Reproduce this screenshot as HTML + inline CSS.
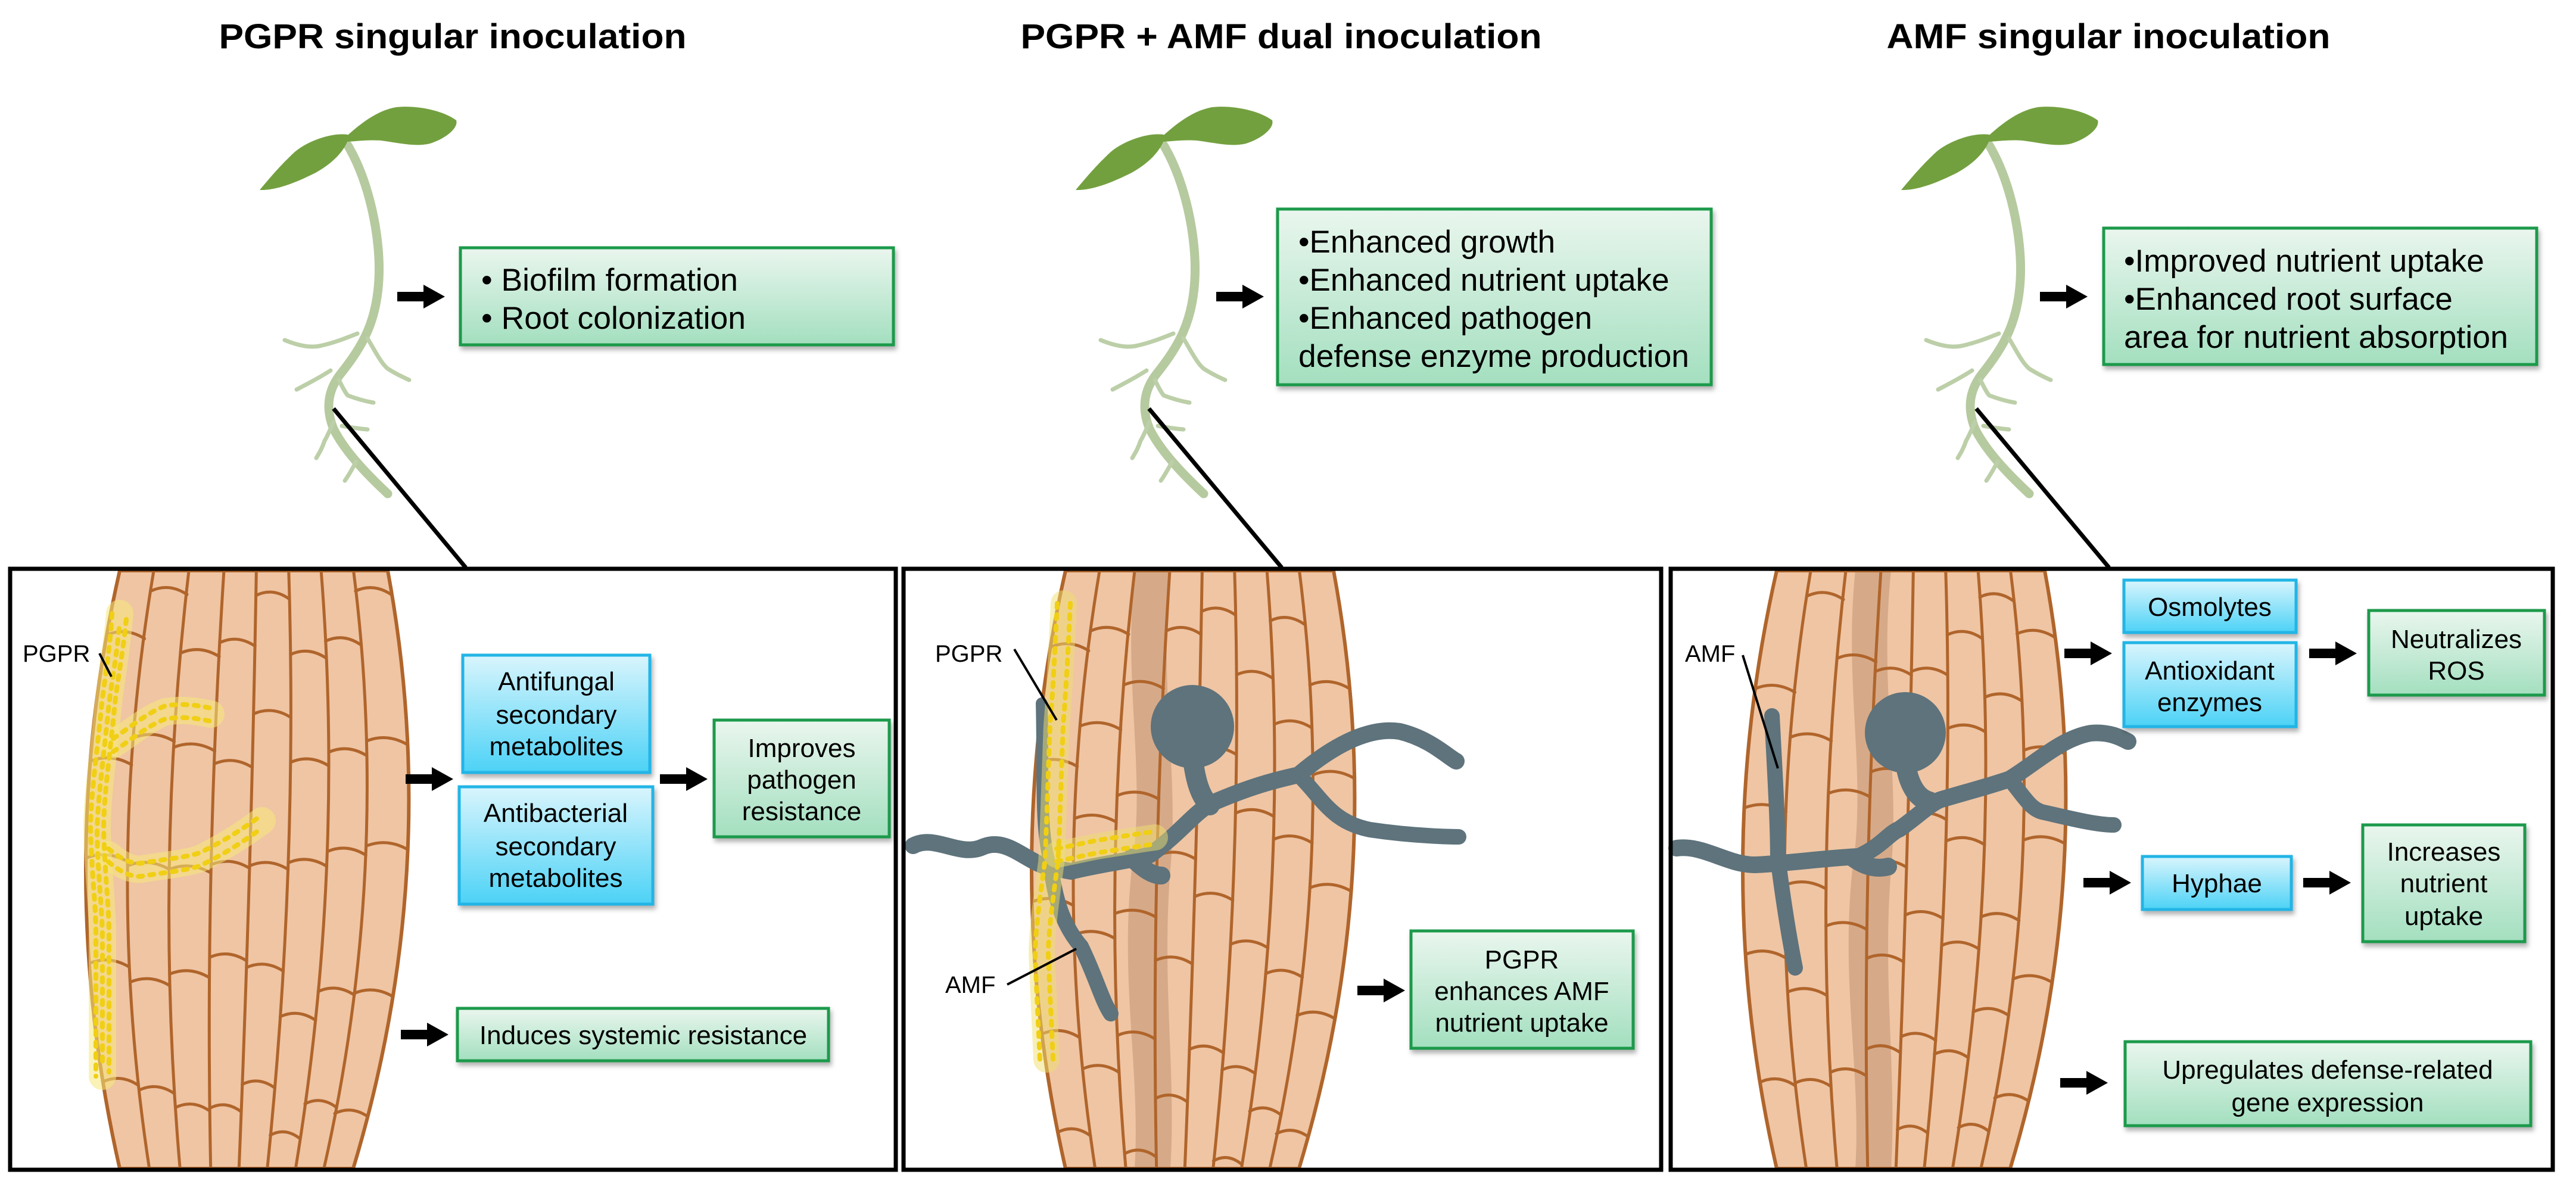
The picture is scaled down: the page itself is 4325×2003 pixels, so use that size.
<!DOCTYPE html>
<html><head><meta charset="utf-8">
<style>
html,body{margin:0;padding:0;background:#fff;}
svg{display:block;}
text{font-family:"Liberation Sans",Arial,sans-serif;fill:#000;}
.t{font-size:44px;text-anchor:middle;}
.tb{font-size:53px;}
.ttl{font-size:58px;font-weight:bold;text-anchor:middle;}
.lbl{font-size:40px;}
.gb{fill:url(#gg);stroke:#1f9a4c;stroke-width:5;filter:url(#sh);}
.bb{fill:url(#bg);stroke:#22b5e6;stroke-width:5;filter:url(#sh);}
.hy{fill:none;stroke:#5e737c;stroke-linecap:round;stroke-linejoin:round;}
</style></head>
<body>
<svg id="s" width="4325" height="2003" viewBox="0 0 4325 2003" xmlns="http://www.w3.org/2000/svg">
<defs>
<linearGradient id="gg" x1="0" y1="0" x2="0" y2="1"><stop offset="0" stop-color="#eaf6ee"/><stop offset="1" stop-color="#a3dfbf"/></linearGradient>
<linearGradient id="bg" x1="0" y1="0" x2="0" y2="1"><stop offset="0" stop-color="#d9f5fd"/><stop offset="1" stop-color="#4cd2f6"/></linearGradient>
<filter id="sh" x="-10%" y="-10%" width="130%" height="140%"><feDropShadow dx="3" dy="6" stdDeviation="4" flood-color="#000" flood-opacity="0.3"/></filter>
<path id="arr" d="M0,-8 H44 V-20 L80,0 L44,20 V8 H0 Z" fill="#000"/>
<g id="plant">
<path d="M579,236 C620,300 640,400 636,470 C632,540 610,580 570,630 C548,660 548,690 560,720 C580,760 620,800 651,829" fill="none" stroke="#b6ca9f" stroke-width="15" stroke-linecap="round"/>
<g fill="none" stroke="#bccfa8" stroke-width="7" stroke-linecap="round">
<path d="M478,571 C500,580 520,584 536,581 C560,576 580,568 600,560"/>
<path d="M617,568 C630,590 640,610 651,619 C665,628 678,634 687,638"/>
<path d="M555,622 C535,635 515,645 498,654"/>
<path d="M569,638 C575,650 580,660 584,664 C600,670 615,674 627,676"/>
<path d="M560,708 C555,720 548,735 545,740 C540,755 535,762 531,769"/>
<path d="M574,715 C590,718 605,720 617,721"/>
<path d="M598,775 C590,790 584,800 579,807"/>
</g>
<path d="M584,226 C555,222 515,238 495,255 C470,278 452,300 436,319 C465,320 500,305 530,290 C555,276 575,258 584,236 Z" fill="#73a03f"/>
<path d="M576,234 C600,212 630,186 665,180 C700,176 745,186 766,202 C770,214 750,232 722,241 C698,247 670,240 640,236 C615,234 595,238 576,238 Z" fill="#73a03f"/>
</g>
</defs>

<text class="ttl" x="760" y="81" textLength="785" lengthAdjust="spacingAndGlyphs">PGPR singular inoculation</text>
<text class="ttl" x="2151" y="81" textLength="875" lengthAdjust="spacingAndGlyphs">PGPR + AMF dual inoculation</text>
<text class="ttl" x="3540" y="81" textLength="745" lengthAdjust="spacingAndGlyphs">AMF singular inoculation</text>

<use href="#plant"/>
<use href="#plant" transform="translate(1370,0)"/>
<use href="#plant" transform="translate(2756,0)"/>

<line x1="560" y1="686" x2="782" y2="953" stroke="#000" stroke-width="7"/>
<line x1="1929" y1="686" x2="2152" y2="953" stroke="#000" stroke-width="7"/>
<line x1="3318" y1="686" x2="3541" y2="953" stroke="#000" stroke-width="7"/>

<use href="#arr" transform="translate(667,498)"/>
<rect class="gb" x="773" y="416" width="727" height="163"/>
<text class="tb" x="808" y="488" textLength="431" lengthAdjust="spacingAndGlyphs">• Biofilm formation</text>
<text class="tb" x="808" y="552" textLength="444" lengthAdjust="spacingAndGlyphs">• Root colonization</text>

<use href="#arr" transform="translate(2042,498)"/>
<rect class="gb" x="2145" y="351" width="728" height="295"/>
<text class="tb" x="2180" y="424">•Enhanced growth</text>
<text class="tb" x="2180" y="488">•Enhanced nutrient uptake</text>
<text class="tb" x="2180" y="552">•Enhanced pathogen</text>
<text class="tb" x="2180" y="616" textLength="656" lengthAdjust="spacingAndGlyphs">defense enzyme production</text>

<use href="#arr" transform="translate(3425,498)"/>
<rect class="gb" x="3532" y="383" width="727" height="229"/>
<text class="tb" x="3566" y="456">•Improved  nutrient uptake</text>
<text class="tb" x="3566" y="520">•Enhanced root surface</text>
<text class="tb" x="3566" y="584" textLength="645" lengthAdjust="spacingAndGlyphs">area for nutrient absorption</text>

<g id="roots"></g>

<g fill="none" stroke-linecap="round" stroke-linejoin="round">
<g stroke="#f6e77a" stroke-opacity="0.55" stroke-width="46">
<path d="M201,1030 C195,1100 185,1150 182,1181 C172,1280 163,1340 163,1392 C165,1470 172,1520 172,1568 C172,1650 172,1730 172,1807"/>
<path d="M190,1250 C220,1230 250,1205 278,1195 C310,1190 335,1195 354,1199"/>
<path d="M182,1435 C200,1450 220,1462 239,1459 C280,1452 310,1450 335,1442 C380,1420 410,1400 440,1378"/>
</g>
<g stroke="#f0cf14" stroke-width="8" stroke-dasharray="7 12">
<path d="M188,1030 C184,1100 174,1150 171,1181 C161,1280 152,1340 152,1392 C154,1470 161,1520 161,1568 C161,1650 161,1730 161,1807"/>
<path d="M212,1040 C206,1100 196,1150 193,1181 C183,1280 174,1340 174,1392 C176,1470 183,1520 183,1568 C183,1650 183,1730 183,1800"/>
<path d="M201,1045 C195,1110 185,1160 182,1191 C172,1290 163,1350 163,1402 C165,1480 172,1530 172,1578 C172,1660 172,1740 172,1790" stroke-dashoffset="9"/>
<path d="M190,1240 C220,1220 250,1195 278,1185 C310,1180 335,1185 354,1189"/>
<path d="M190,1262 C220,1242 250,1217 278,1207 C310,1202 335,1207 354,1211"/>
<path d="M182,1425 C200,1440 220,1452 239,1449 C280,1442 310,1440 335,1432 C380,1410 410,1390 440,1368"/>
<path d="M182,1447 C200,1462 220,1474 239,1471 C280,1464 310,1462 335,1454 C380,1432 410,1412 440,1390"/>
</g>
</g>
<text class="lbl" x="38" y="1111">PGPR</text>
<line x1="167" y1="1097" x2="187" y2="1136" stroke="#000" stroke-width="4"/>

<use href="#arr" transform="translate(681,1308)"/>
<rect class="bb" x="777" y="1100" width="314" height="197"/>
<text class="t" x="934" y="1159">Antifungal</text>
<text class="t" x="934" y="1215">secondary</text>
<text class="t" x="934" y="1268">metabolites</text>
<rect class="bb" x="771" y="1321" width="325" height="197"/>
<text class="t" x="933" y="1380">Antibacterial</text>
<text class="t" x="933" y="1436">secondary</text>
<text class="t" x="933" y="1489">metabolites</text>
<use href="#arr" transform="translate(1108,1308)"/>
<rect class="gb" x="1199" y="1209" width="294" height="196"/>
<text class="t" x="1346" y="1271">Improves</text>
<text class="t" x="1346" y="1324">pathogen</text>
<text class="t" x="1346" y="1377">resistance</text>
<use href="#arr" transform="translate(673,1737)"/>
<rect class="gb" x="768" y="1693" width="623" height="88"/>
<text class="t" x="1080" y="1753">Induces systemic resistance</text>

<g class="hy">
<path stroke-width="28" d="M1533,1420 C1570,1400 1610,1440 1650,1422 C1690,1405 1720,1445 1760,1456 L1798,1463 C1850,1450 1900,1445 1931,1435 C1980,1400 2000,1370 2031,1350 C2100,1320 2140,1310 2180,1301 C2240,1250 2300,1220 2350,1228 C2400,1240 2430,1270 2445,1278"/>
<path stroke-width="26" d="M2180,1301 C2220,1340 2235,1380 2300,1393 C2380,1405 2449,1405 2449,1405"/>
<path stroke-width="34" d="M2002,1270 C2006,1300 2012,1335 2031,1352"/>
<path stroke-width="26" d="M1765,1456 C1772,1520 1790,1560 1815,1589 C1840,1640 1850,1680 1865,1702"/>
<path stroke-width="20" d="M1749,1181 C1752,1300 1745,1400 1765,1456"/>
<path stroke-width="30" d="M1900,1440 C1920,1460 1935,1470 1950,1470"/>
</g>
<circle cx="2002" cy="1220" r="70" fill="#5e737c"/>
<g fill="none" stroke-linecap="round" stroke-linejoin="round">
<g stroke="#f0e070" stroke-opacity="0.5" stroke-width="44">
<path d="M1786,1013 C1782,1100 1778,1170 1774,1217 C1770,1320 1768,1400 1765,1449 C1755,1520 1749,1570 1749,1603 C1752,1680 1755,1730 1757,1779"/>
<path d="M1774,1435 C1800,1430 1825,1424 1848,1420 C1880,1415 1910,1410 1939,1406"/>
</g>
<g stroke="#f0cf14" stroke-width="8" stroke-dasharray="7 12">
<path d="M1775,1013 C1771,1100 1767,1170 1763,1217 C1759,1320 1757,1400 1754,1449 C1744,1520 1738,1570 1738,1603 C1741,1680 1744,1730 1746,1779"/>
<path d="M1797,1013 C1793,1100 1789,1170 1785,1217 C1781,1320 1779,1400 1776,1449 C1766,1520 1760,1570 1760,1603 C1763,1680 1766,1730 1768,1779"/>
<path d="M1774,1425 C1800,1420 1825,1414 1848,1410 C1880,1405 1910,1400 1939,1396"/>
<path d="M1774,1446 C1800,1441 1825,1435 1848,1431 C1880,1426 1910,1421 1939,1417"/>
</g>
</g>
<text class="lbl" x="1570" y="1111">PGPR</text>
<line x1="1703" y1="1090" x2="1774" y2="1209" stroke="#000" stroke-width="4"/>
<text class="lbl" x="1587" y="1667">AMF</text>
<line x1="1691" y1="1653" x2="1807" y2="1593" stroke="#000" stroke-width="4"/>
<use href="#arr" transform="translate(2279,1663)"/>
<rect class="gb" x="2369" y="1563" width="373" height="197"/>
<text class="t" x="2555" y="1626">PGPR</text>
<text class="t" x="2555" y="1679">enhances AMF</text>
<text class="t" x="2555" y="1732">nutrient uptake</text>

<g class="hy">
<path stroke-width="28" d="M2815,1424 C2860,1418 2900,1452 2946,1452 C3000,1450 3070,1440 3121,1438 C3160,1420 3170,1400 3189,1392 C3220,1370 3240,1350 3257,1343 C3300,1330 3340,1320 3374,1308 C3420,1280 3460,1240 3510,1231 C3540,1228 3560,1238 3573,1245"/>
<path stroke-width="26" d="M3374,1308 C3400,1340 3410,1360 3432,1364 C3480,1375 3520,1385 3549,1385"/>
<path stroke-width="34" d="M3199,1280 C3203,1310 3215,1340 3240,1346"/>
<path stroke-width="26" d="M2975,1202 C2980,1300 2985,1380 2985,1442 C2995,1520 3005,1580 3014,1625"/>
<path stroke-width="30" d="M3110,1440 C3130,1455 3150,1460 3170,1455"/>
</g>
<circle cx="3199" cy="1230" r="68" fill="#5e737c"/>
<text class="lbl" x="2829" y="1111">AMF</text>
<line x1="2926" y1="1100" x2="2985" y2="1290" stroke="#000" stroke-width="4"/>

<use href="#arr" transform="translate(3466,1097)"/>
<rect class="bb" x="3566" y="974" width="289" height="88"/>
<text class="t" x="3710" y="1034">Osmolytes</text>
<rect class="bb" x="3566" y="1079" width="289" height="141"/>
<text class="t" x="3710" y="1141">Antioxidant</text>
<text class="t" x="3710" y="1194">enzymes</text>
<use href="#arr" transform="translate(3877,1097)"/>
<rect class="gb" x="3977" y="1025" width="295" height="142"/>
<text class="t" x="4124" y="1088">Neutralizes</text>
<text class="t" x="4124" y="1141">ROS</text>
<use href="#arr" transform="translate(3498,1482)"/>
<rect class="bb" x="3597" y="1438" width="250" height="89"/>
<text class="t" x="3722" y="1498">Hyphae</text>
<use href="#arr" transform="translate(3867,1482)"/>
<rect class="gb" x="3967" y="1385" width="272" height="196"/>
<text class="t" x="4103" y="1445">Increases</text>
<text class="t" x="4103" y="1498">nutrient</text>
<text class="t" x="4103" y="1553">uptake</text>
<use href="#arr" transform="translate(3459,1818)"/>
<rect class="gb" x="3568" y="1749" width="681" height="141"/>
<text class="t" x="3908" y="1811">Upregulates defense-related</text>
<text class="t" x="3908" y="1866">gene expression</text>

<g fill="none" stroke="#000" stroke-width="7">
<rect x="17" y="955" width="1487" height="1009"/>
<rect x="1517" y="955" width="1272" height="1009"/>
<rect x="2805" y="955" width="1481" height="1009"/>
</g>
</svg>
<script>
(function(){
var NS="http://www.w3.org/2000/svg";
var g=document.getElementById("roots");
var seed=7;function rnd(){seed=(seed*9301+49297)%233280;return seed/233280;}
function L(s){return (1-s)*(1-s)*57+2*s*(1-s)*(-57)+s*s*57;}
function R(s){return (1-s)*(1-s)*507+2*s*(1-s)*600+s*s*449;}
var outline="M57,958 Q-57,1460 57,1962 L449,1962 Q600,1460 507,958 Z";
function el(n,a,p){var e=document.createElementNS(NS,n);for(var k in a)e.setAttribute(k,a[k]);p.appendChild(e);return e;}
var roots=[[144,null],[1732,203],[2926,219]];
var svg=document.getElementById("s");
var defs=svg.querySelector("defs");
roots.forEach(function(r,idx){
 var ox=r[0];
 var cp=el("clipPath",{id:"rc"+idx},defs);
 el("path",{d:outline,transform:"translate("+ox+",0)"},cp);
 var grp=el("g",{transform:"translate("+ox+",0)"},g);
 el("path",{d:outline,fill:"#efc5a4"},grp);
 var inner=el("g",{"clip-path":"url(#rc"+idx+")"},g);
 var ig=el("g",{transform:"translate("+ox+",0)"},inner);
 if(r[1]!==null){
  var c=r[1];
  el("path",{d:"M"+(c-30)+",958 C"+(c-50)+",1150 "+(c-10)+",1300 "+(c-35)+",1460 C"+(c-55)+",1650 "+(c-20)+",1800 "+(c-30)+",1962 L"+(c+30)+",1962 C"+(c+40)+",1800 "+(c+15)+",1650 "+(c+30)+",1460 C"+(c+45)+",1300 "+(c+10)+",1150 "+(c+30)+",958 Z",fill:"#d6aa89"},ig);
 }
 var ts=[0,.13,.26,.39,.51,.63,.75,.87,1];
 var st={fill:"none",stroke:"#b0652b","stroke-width":5,"stroke-linecap":"round"};
 for(var i=1;i<ts.length-1;i++){
  var t=ts[i];
  var x0=57+t*450,xc=-57+t*657,x1=57+t*392;
  var a=Object.assign({},st);a.d="M"+x0+",950 Q"+xc+",1460 "+x1+",1970";
  el("path",a,ig);
 }
 for(var i=0;i<ts.length-1;i++){
  var y=958+rnd()*180+20;
  while(y<1960){
   var s=(y-958)/1004,l=L(s),rr=R(s);
   var xa=l+ts[i]*(rr-l),xb=l+ts[i+1]*(rr-l);
   var a=Object.assign({},st);
   a.d="M"+xa+","+y+" Q"+((xa+xb)/2)+","+(y-14)+" "+xb+","+(y+6);
   el("path",a,ig);
   y+=150+rnd()*110;
  }
 }
 var o=Object.assign({},st);o.d=outline;o["stroke-width"]=6;o.transform="translate("+ox+",0)";
 el("path",o,g);
});
})();
</script>
</body></html>
